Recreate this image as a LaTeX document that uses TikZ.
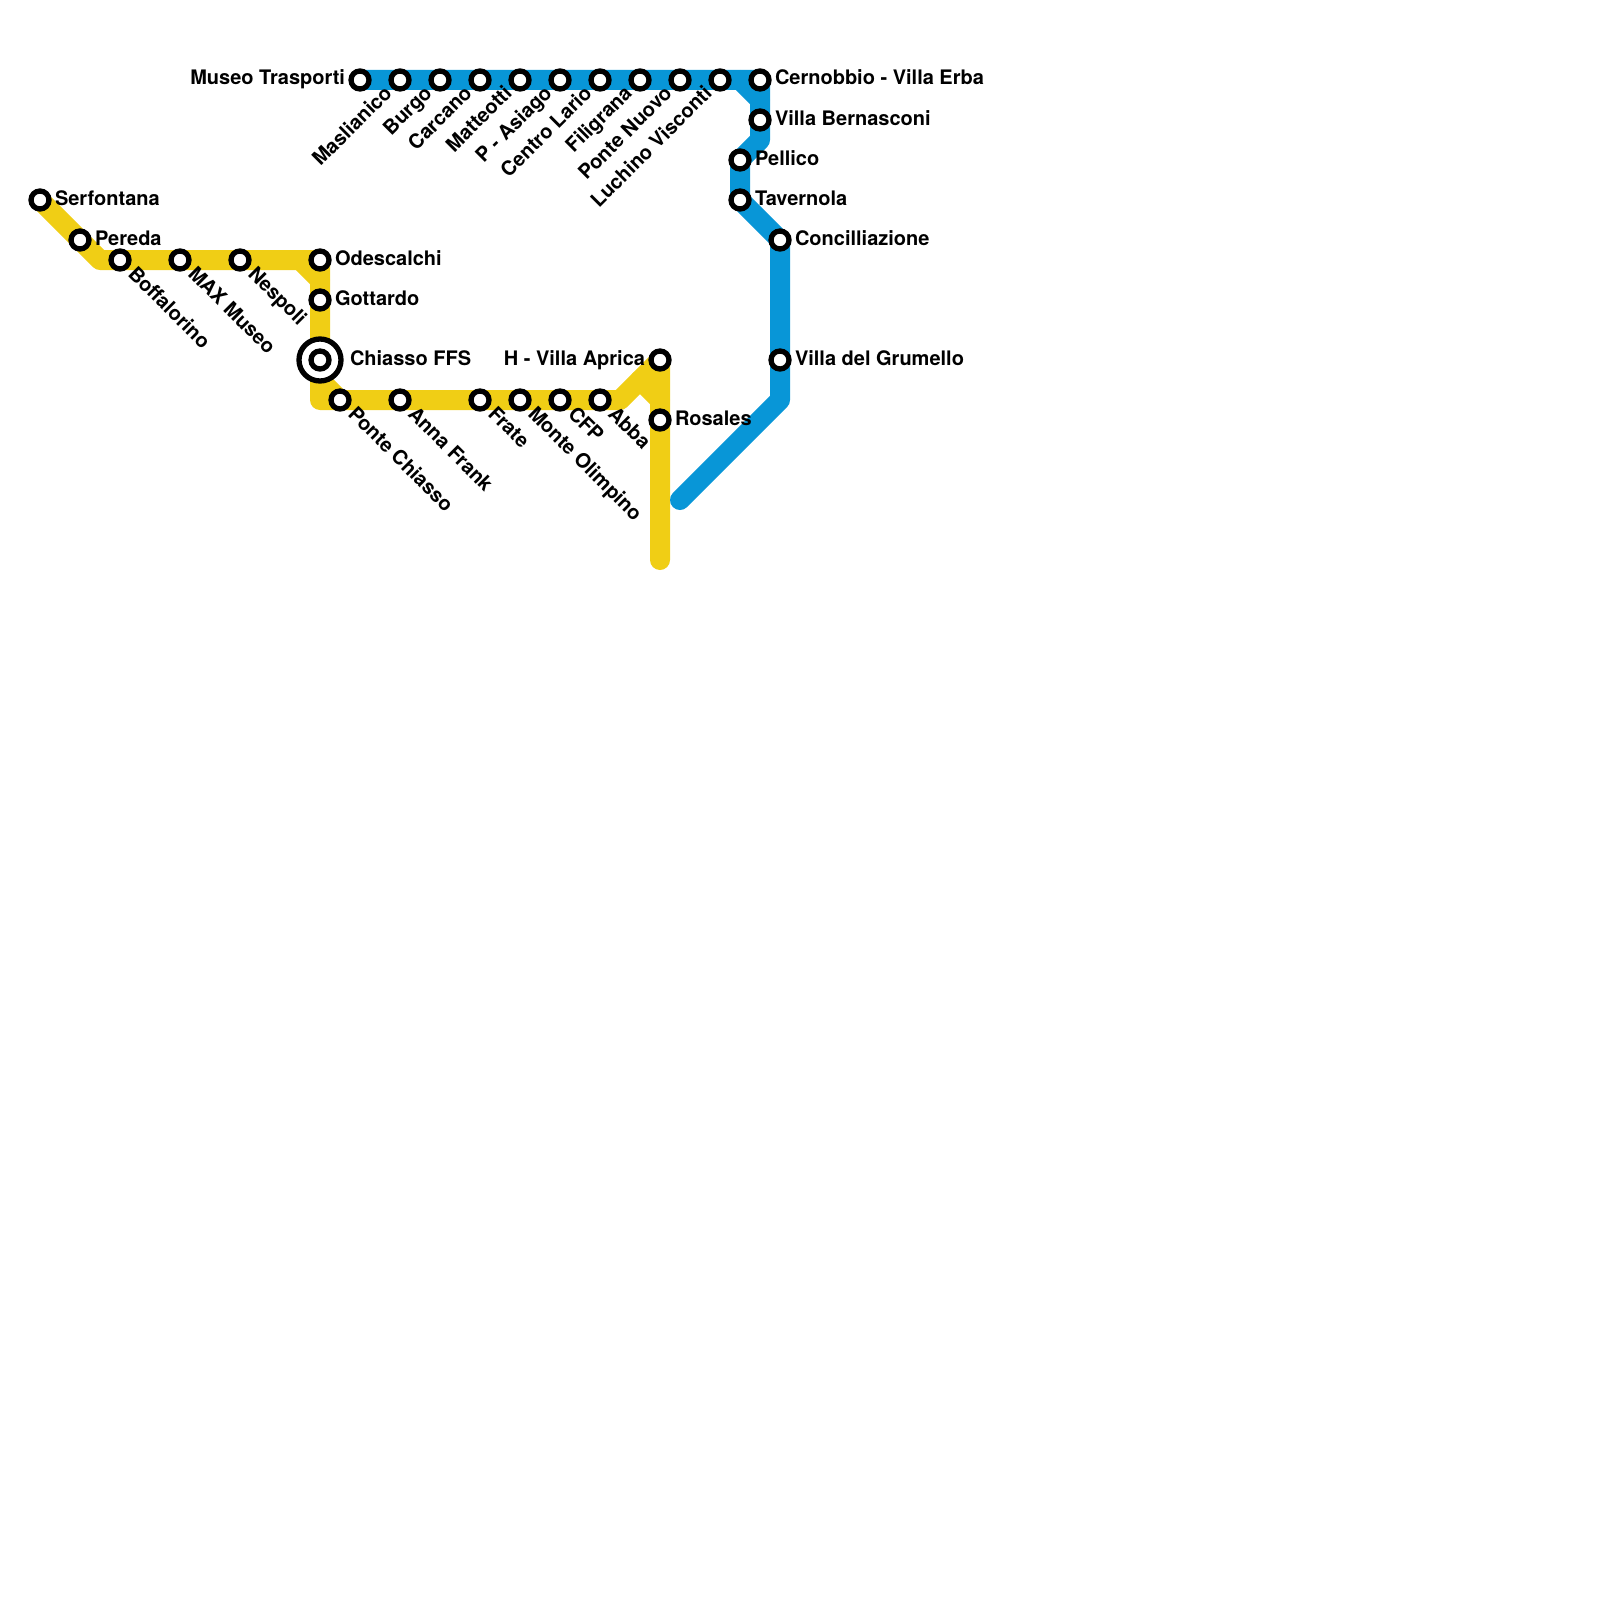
\documentclass[tikz,border=0pt]{standalone}
\usepackage{fontspec}
\setmainfont{TeX Gyre Heros}
\pgfdeclarelayer{lines}
\pgfsetlayers{lines,main}
\definecolor{lineyellow}{HTML}{F0CE15}
\definecolor{lineblue}{HTML}{0896D7}
\tikzset{
  stn/.style={circle,draw=black,fill=white,line width=5.3pt,minimum size=18pt,inner sep=0pt,outer sep=0pt},
  hubring/.style={circle,draw=black,fill=white,line width=5.3pt,minimum size=42pt,inner sep=0pt,outer sep=0pt},
  lab/.style={inner sep=0pt,outer sep=0pt,font=\fontsize{20}{24}\selectfont\bfseries,text=black},
  labR/.style={lab,anchor=base west},
  labL/.style={lab,anchor=base east},
  labD/.style={lab,anchor=base west,rotate=-45},
  labU/.style={lab,anchor=base east,rotate=45},
  yline/.style={draw=lineyellow,line width=20pt,line cap=round,line join=round},
  bline/.style={draw=lineblue,line width=20pt,line cap=round,line join=round},
}
\begin{document}
\begin{tikzpicture}[x=1pt,y=-1pt]
\useasboundingbox (0,0) rectangle (1600,1600);
% yellow stations
\node[stn] (ser) at (40,200) {};
\node[stn] (per) at (80,240) {};
\node[stn] (bof) at (120,260) {};
\node[stn] (max) at (180,260) {};
\node[stn] (nes) at (240,260) {};
\node[stn] (ode) at (320,260) {};
\node[stn] (got) at (320,300) {};
\node[hubring] (chiR) at (320,360) {};
\node[stn] (chi) at (320,360) {};
\node[stn] (pon) at (340,400) {};
\node[stn] (ann) at (400,400) {};
\node[stn] (fra) at (480,400) {};
\node[stn] (mon) at (520,400) {};
\node[stn] (cfp) at (560,400) {};
\node[stn] (abb) at (600,400) {};
\node[stn] (hvi) at (660,360) {};
\node[stn] (ros) at (660,420) {};
% blue stations
\node[stn] (mus) at (360,80) {};
\node[stn] (mas) at (400,80) {};
\node[stn] (bur) at (440,80) {};
\node[stn] (car) at (480,80) {};
\node[stn] (mat) at (520,80) {};
\node[stn] (pas) at (560,80) {};
\node[stn] (cen) at (600,80) {};
\node[stn] (fil) at (640,80) {};
\node[stn] (pnu) at (680,80) {};
\node[stn] (luc) at (720,80) {};
\node[stn] (cer) at (760,80) {};
\node[stn] (vbe) at (760,120) {};
\node[stn] (pel) at (740,160) {};
\node[stn] (tav) at (740,200) {};
\node[stn] (con) at (780,240) {};
\node[stn] (vgr) at (780,360) {};
% bend and end points
\coordinate (ya) at (100,260);
\coordinate (yb) at (300,260);
\coordinate (yc) at (320,280);
\coordinate (yd) at (320,380);
\coordinate (ye) at (320,400);
\coordinate (yf) at (620,400);
\coordinate (yg) at (640,380);
\coordinate (yh) at (660,400);
\coordinate (yend) at (660,560);
\coordinate (ba) at (740,80);
\coordinate (bb) at (760,100);
\coordinate (bc) at (760,140);
\coordinate (bd) at (780,400);
\coordinate (bend) at (680,500);
\begin{pgfonlayer}{lines}
\draw[yline] (ser.center) -- (ya) -- (ode.center) -- (ye) -- (yf) -- (hvi.center) -- (yend);
\draw[yline] (yb) -- (yc);
\draw[yline] (yd) -- (pon.center);
\draw[yline] (yg) -- (yh);
\draw[bline] (mus.center) -- (cer.center) -- (bc) -- (pel.center) -- (tav.center) -- (con.center) -- (bd) -- (bend);
\draw[bline] (ba) -- (bb);
\end{pgfonlayer}
% labels right
\node[labR] (lser) at (55,205) {Serfontana};
\node[labR] (lper) at (95,245) {Pereda};
\node[labR] (lode) at (335,265) {Odescalchi};
\node[labR] (lgot) at (335,305) {Gottardo};
\node[labR] (lchi) at (350,365) {Chiasso FFS};
\node[labR] (lros) at (675,425) {Rosales};
\node[labR] (lcer) at (775,85) {Cernobbio - Villa Erba};
\node[labR] (lvbe) at (775,125) {Villa Bernasconi};
\node[labR] (lpel) at (755,165) {Pellico};
\node[labR] (ltav) at (755,205) {Tavernola};
\node[labR] (lcon) at (795,245) {Concilliazione};
\node[labR] (lvgr) at (795,365) {Villa del Grumello};
% labels left
\node[labL] (lmus) at (345,85) {Museo Trasporti};
\node[labL] (lhvi) at (645,365) {H - Villa Aprica};
% labels down-right
\node[labD] (lbof) at (127,275) {Boffalorino};
\node[labD] (lmax) at (187,275) {MAX Museo};
\node[labD] (lnes) at (247,275) {Nespoli};
\node[labD] (lpon) at (347,415) {Ponte Chiasso};
\node[labD] (lann) at (407,415) {Anna Frank};
\node[labD] (lfra) at (487,415) {Frate};
\node[labD] (lmon) at (527,415) {Monte Olimpino};
\node[labD] (lcfp) at (567,415) {CFP};
\node[labD] (labb) at (607,415) {Abba};
% labels up-right
\node[labU] (lmas) at (393,94.5) {Maslianico};
\node[labU] (lbur) at (433,94.5) {Burgo};
\node[labU] (lcar) at (473,94.5) {Carcano};
\node[labU] (lmat) at (513,94.5) {Matteotti};
\node[labU] (lpas) at (553,94.5) {P - Asiago};
\node[labU] (lcen) at (593,94.5) {Centro Lario};
\node[labU] (lfil) at (633,94.5) {Filigrana};
\node[labU] (lpnu) at (673,94.5) {Ponte Nuovo};
\node[labU] (lluc) at (713,94.5) {Luchino Visconti};
\end{tikzpicture}
\end{document}
